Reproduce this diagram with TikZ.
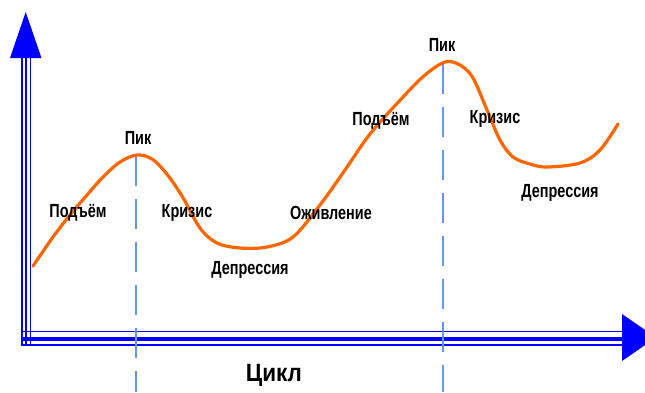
\documentclass[tikz,border=0pt]{standalone}
\usepackage{fontspec}
\newfontfamily\lab[FakeStretch=0.76]{Liberation Sans}
\newfontfamily\labbig[FakeStretch=0.9]{Liberation Sans}
\definecolor{curvec}{RGB}{255,102,0}
\definecolor{axisc}{RGB}{0,0,255}
\definecolor{dashc}{RGB}{100,150,240}
\begin{document}
\begin{tikzpicture}[x=1pt,y=-1pt,
  lbl/.style={font=\lab\bfseries\fontsize{19}{19}\selectfont, text=black, inner sep=0pt},
  big/.style={font=\labbig\bfseries\fontsize{25}{25}\selectfont, text=black, inner sep=0pt},
  axthin/.style={draw=axisc, line width=1.6pt},
  axthick/.style={draw=axisc, line width=4pt},
  guide/.style={draw=dashc, line width=2.5pt, dash pattern=on 30pt off 13pt}]
\useasboundingbox (0,0) rectangle (645,392);
\fill[white] (0,0) rectangle (645,392);
\begin{scope}
\clip (0,0) rectangle (645,392);
% vertical axis
\draw[axthin] (22,58) -- (22,345.5);
\draw[axthin] (26,58) -- (26,345.5);
\draw[axthin] (30.5,58) -- (30.5,345.5);
\fill[axisc] (10,58) -- (41.5,58) -- (25.7,12) -- cycle;
% horizontal axis
\draw[axthin] (21.2,331.5) -- (623,331.5);
\draw[axthick] (21.2,338.5) -- (623,338.5);
\draw[axthin] (21.2,345) -- (623,345);
\fill[axisc] (622,314) -- (622,361) -- (656,337.5) -- cycle;
% guides
\coordinate (g1top) at (136,156);
\coordinate (g1bot) at (136,392);
\coordinate (g2top) at (443,64);
\coordinate (g2bot) at (443,392);
\draw[guide] (g1top) -- (g1bot);
\draw[guide] (g2top) -- (g2bot);
\end{scope}
% curve
\draw[curvec, line width=3.2pt, line cap=round] plot[smooth, tension=0.55] coordinates {
 (33,266) (53,237) (70,215) (87,195) (103,177) (120,162) (137,155) (152,159) (166,173)
 (182,196) (200,228) (217,243) (240,248) (267,247) (293,237) (320,205) (345,170) (370,134)
 (403,97) (425,75) (445,62) (460,65) (473,78) (487,110) (500,140) (513,157) (530,164)
 (547,167) (580,163) (600,150) (618,124)};
% labels
\node[lbl] (pik1) at (138,138) {Пик};
\node[lbl] (pod1) at (78,213) {Подъём};
\node[lbl] (kri1) at (187,213) {Кризис};
\node[lbl] (dep1) at (250,270) {Депрессия};
\node[lbl] (ozh) at (331,213) {Оживление};
\node[lbl] (pod2) at (381,121) {Подъём};
\node[lbl] (pik2) at (442,45) {Пик};
\node[lbl] (kri2) at (495,119) {Кризис};
\node[lbl] (dep2) at (560,193) {Депрессия};
\node[big] (cikl) at (274,375) {Цикл};
\end{tikzpicture}
\end{document}
